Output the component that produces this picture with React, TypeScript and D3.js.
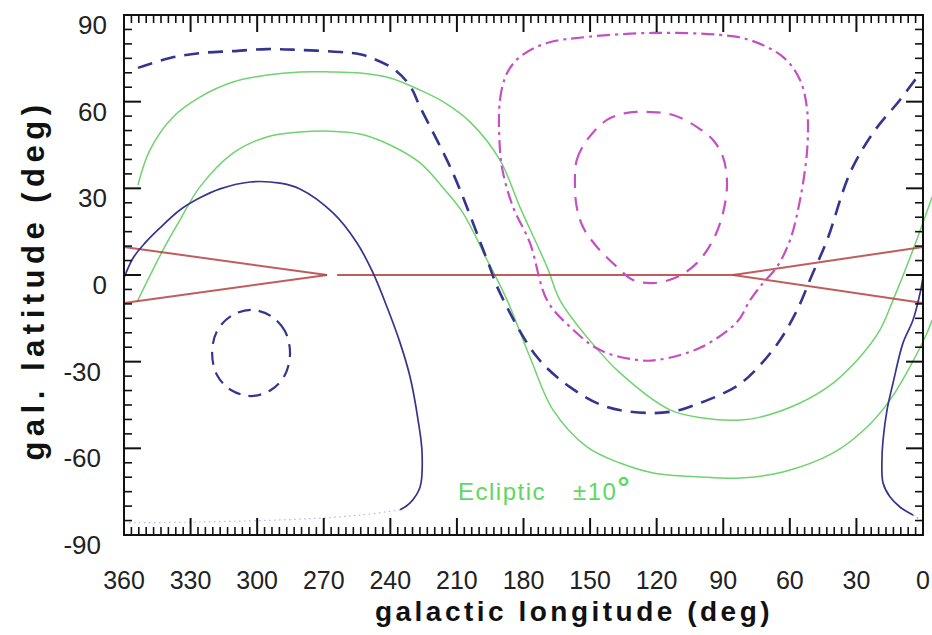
import React from 'react';
import * as d3 from 'd3';

type P = [number, number];

const lonTicks = [360, 330, 300, 270, 240, 210, 180, 150, 120, 90, 60, 30, 0];
const latTicks = [90, 60, 30, 0, -30, -60, -90];

// Ecliptic +10 deg (green)
const eclipticUpper: P[] = [
  [353.7, 31.2], [348.3, 43.3], [337.9, 54.7], [325.8, 61.6], [310.9, 66.8], [295.6, 69.2],
  [280.7, 70.3], [267.2, 70.3], [253.7, 69.9], [240.1, 68.2], [226.6, 64.0], [215.4, 59.6],
  [204.1, 53.0], [190.6, 39.8], [181.6, 23.5], [169.4, 2.8], [163.6, -8.7], [151.4, -21.5],
  [136.5, -33.9], [114.0, -46.7], [99.1, -49.5], [82.4, -50.2], [73.4, -49.2], [55.4, -44.3],
  [40.5, -37.4], [28.4, -28.4], [19.4, -19.0], [13.5, -8.7], [4.5, 8.7], [-4.1, 27.0],
];

// Ecliptic -10 deg (green)
const eclipticLower: P[] = [
  [354.1, -9.3], [342.4, 8.7], [334.8, 19.0], [325.8, 30.5], [310.9, 42.2], [295.6, 47.8],
  [280.7, 49.5], [267.2, 49.8], [253.7, 48.8], [240.1, 45.0], [226.6, 38.8], [215.4, 29.4],
  [207.3, 21.5], [196.4, 5.2], [187.4, -8.7], [177.1, -28.4], [166.7, -46.7], [151.4, -59.5],
  [136.5, -65.1], [121.6, -68.5], [100.5, -69.9], [82.4, -70.3], [63.1, -68.2], [40.5, -61.6],
  [25.2, -52.6], [14.9, -43.3], [5.9, -31.8], [-1.8, -20.1], [-4.1, -15.6],
];

// Blue dashed large curve
const blueDashed: P[] = [
  [353.7, 71.7], [339.3, 75.1], [325.8, 76.8], [310.9, 77.5], [295.6, 78.2], [280.7, 77.9],
  [262.7, 77.2], [253.7, 76.4], [248.3, 75.1], [237.9, 71.0], [231.1, 65.4], [226.6, 58.2],
  [211.8, 35.3], [196.4, 5.2], [190.6, -6.2], [173.9, -28.4], [159.0, -38.8], [142.4, -45.7],
  [121.6, -47.8], [109.5, -46.7], [100.5, -44.3], [91.5, -41.5], [82.4, -37.7], [73.4, -31.2],
  [64.4, -22.5], [56.7, -12.1], [50.0, 0.0], [43.2, 12.1], [32.9, 35.3], [22.5, 49.2],
  [10.4, 60.6], [1.3, 69.9],
];

// Blue dashed small circle
const blueCircle: P[] = [
  [285.2, -27.0], [287.5, -19.4], [293.8, -14.2], [302.8, -12.1], [311.8, -14.2], [318.1, -19.4],
  [320.3, -27.0], [318.1, -34.6], [311.8, -39.8], [302.8, -41.9], [293.8, -39.8], [287.5, -34.6],
];

// Blue solid curve, left branch
const blueSolidLeft: P[] = [
  [360, -1.0], [355.9, 5.9], [350.5, 11.1], [343.8, 16.3], [334.8, 22.5], [325.8, 26.7],
  [316.7, 29.8], [303.2, 32.2], [289.7, 31.8], [280.7, 29.8], [265.8, 21.5], [255.0, 11.1],
  [247.8, 0.7], [241.5, -11.1], [235.6, -23.5], [231.1, -35.3], [227.5, -50.2], [225.7, -61.6],
  [226.6, -73.4], [231.1, -78.9], [235.6, -81.3],
];
const blueSolidLeftTail: P[] = [
  [235.6, -81.3], [253.7, -83.1], [280.7, -84.5], [325.8, -85.5], [359.1, -85.8],
];

// Blue solid curve, right branch
const blueSolidRight: P[] = [
  [0.0, -0.7], [1.3, -6.2], [4.5, -15.6], [9.0, -23.5], [13.5, -37.4], [16.2, -46.7],
  [18.0, -57.1], [18.5, -64.0], [18.0, -72.0], [14.9, -76.8], [10.4, -80.3], [4.5, -83.1],
];
const blueSolidRightTail: P[] = [[4.5, -83.1], [0.9, -84.8]];

// Red lines
const redPlane: P[] = [[264.0, 0.0], [85.6, 0.0]];
const redLeftUpper: P[] = [[360, 9.7], [268.5, 0.0]];
const redLeftLower: P[] = [[360, -9.7], [268.5, 0.0]];
const redRightUpper: P[] = [[85.6, 0.0], [0, 9.7]];
const redRightLower: P[] = [[85.6, 0.0], [0, -9.7]];

// Magenta dash-dot large region
const magentaOuter: P[] = [
  [190.6, 43.3], [190.6, 60.6], [187.4, 69.9], [181.6, 75.5], [169.4, 80.3], [151.4, 82.4],
  [121.6, 83.8], [91.5, 83.1], [77.9, 81.3], [63.1, 75.5], [55.4, 67.5], [52.2, 57.1],
  [52.2, 43.3], [55.4, 26.0], [59.9, 12.1], [65.8, 2.8], [72.1, -2.8], [77.9, -8.7],
  [83.8, -16.3], [100.5, -25.2], [119.5, -29.4], [128.9, -29.4], [145.5, -26.0], [159.0, -18.0],
  [169.4, -8.7], [177.1, 11.1], [184.7, 23.5], [189.2, 35.3],
];

// Magenta dashed inner region
const magentaInner: P[] = [
  [156.8, 30.5], [156.0, 39.8], [151.4, 46.7], [142.4, 53.7], [133.3, 56.1], [123.0, 56.4],
  [112.6, 55.4], [101.8, 51.2], [94.6, 46.7], [90.1, 40.8], [88.3, 31.8], [90.1, 21.5],
  [94.6, 12.1], [101.8, 4.2], [110.8, -0.7], [121.6, -2.8], [130.7, -1.7], [137.9, 2.8],
  [146.9, 9.7], [153.2, 16.6], [156.0, 23.5],
];

const BLUE = '#35358f';
const GREEN = '#6fd36f';
const RED = '#b5413f';
const MAGENTA = '#c450c4';

export default function App() {
  const W = 932;
  const H = 635;
  const L = 124, R = 923, T = 15, B = 535;
  const x = d3.scaleLinear().domain([360, 0]).range([L, R]);
  const y = d3.scaleLinear().domain([90, -90]).range([T, B]);

  const line = d3.line<P>().x(d => x(d[0])).y(d => y(d[1])).curve(d3.curveCatmullRom.alpha(0.5));
  const straight = d3.line<P>().x(d => x(d[0])).y(d => y(d[1]));
  const loop = d3.line<P>().x(d => x(d[0])).y(d => y(d[1])).curve(d3.curveCatmullRomClosed.alpha(0.5));

  const xMinor = d3.range(0, 360.0001, 10 / 3);
  const yMinor = d3.range(-90, 90.0001, 5);
  const font = "'Liberation Sans', Arial, Helvetica, sans-serif";

  return (
    <svg width={W} height={H} style={{ position: 'absolute', left: 0, top: 0, background: '#fff' }}>
      {/* curves */}
      <path d={line(eclipticUpper) || ''} fill="none" stroke={GREEN} strokeWidth={1.5} />
      <path d={line(eclipticLower) || ''} fill="none" stroke={GREEN} strokeWidth={1.5} />

      <path d={straight(redPlane) || ''} fill="none" stroke={RED} strokeWidth={2.2} opacity={0.85} />
      <path d={straight(redLeftUpper) || ''} fill="none" stroke={RED} strokeWidth={2} opacity={0.85} />
      <path d={straight(redLeftLower) || ''} fill="none" stroke={RED} strokeWidth={2} opacity={0.85} />
      <path d={straight(redRightUpper) || ''} fill="none" stroke={RED} strokeWidth={2} opacity={0.85} />
      <path d={straight(redRightLower) || ''} fill="none" stroke={RED} strokeWidth={2} opacity={0.85} />

      <path d={loop(magentaOuter) || ''} fill="none" stroke={MAGENTA} strokeWidth={2.2} strokeDasharray="13,5,3,5" />
      <path d={loop(magentaInner) || ''} fill="none" stroke={MAGENTA} strokeWidth={2.2} strokeDasharray="14,9" />

      <path d={line(blueDashed) || ''} fill="none" stroke={BLUE} strokeWidth={2.6} strokeDasharray="15,9" />
      <path d={loop(blueCircle) || ''} fill="none" stroke={BLUE} strokeWidth={2.2} strokeDasharray="13,8" />

      <path d={line(blueSolidLeft) || ''} fill="none" stroke={BLUE} strokeWidth={1.7} />
      <path d={line(blueSolidLeftTail) || ''} fill="none" stroke={BLUE} strokeWidth={1.2} strokeDasharray="1.5,3.5" opacity={0.35} />
      <path d={line(blueSolidRight) || ''} fill="none" stroke={BLUE} strokeWidth={1.7} />
      <path d={line(blueSolidRightTail) || ''} fill="none" stroke={BLUE} strokeWidth={1.2} strokeDasharray="1.5,3" opacity={0.6} />

      {/* frame and ticks */}
      <rect x={L} y={T} width={R - L} height={B - T} fill="none" stroke="#111" strokeWidth={2} />
      {xMinor.map((v, i) => {
        const major = Math.abs(v % 30) < 1e-6 || Math.abs((v % 30) - 30) < 1e-6;
        const len = major ? 17 : 8;
        return (
          <g key={'x' + i}>
            <line x1={x(v)} x2={x(v)} y1={B} y2={B - len} stroke="#111" strokeWidth={major ? 2 : 1.6} />
            <line x1={x(v)} x2={x(v)} y1={T} y2={T + len} stroke="#111" strokeWidth={major ? 2 : 1.6} />
          </g>
        );
      })}
      {yMinor.map((v, i) => {
        const major = Math.abs(v % 30) < 1e-6;
        const len = major ? 17 : 8;
        return (
          <g key={'y' + i}>
            <line x1={L} x2={L + len} y1={y(v)} y2={y(v)} stroke="#111" strokeWidth={major ? 2 : 1.6} />
            <line x1={R} x2={R - len} y1={y(v)} y2={y(v)} stroke="#111" strokeWidth={major ? 2 : 1.6} />
          </g>
        );
      })}

      {/* tick labels */}
      {lonTicks.map(v => (
        <text key={'xl' + v} x={x(v)} y={589} textAnchor="middle" fontFamily={font} fontSize={25} fill="#222">
          {v}
        </text>
      ))}
      {latTicks.map(v => (
        <text key={'yl' + v} x={v < 0 ? 101 : 107} y={y(v) + 19} textAnchor="end" fontFamily={font} fontSize={26} fill="#222">
          {v}
        </text>
      ))}

      {/* axis titles */}
      <text x={574} y={621} textAnchor="middle" fontFamily={font} fontSize={28} fontWeight="bold" letterSpacing={3.5} fill="#111">
        galactic longitude (deg)
      </text>
      <text transform={`translate(44,${280}) rotate(-90)`} textAnchor="middle" fontFamily={font} fontSize={31} fontWeight="bold" letterSpacing={5.5} fill="#111">
        gal. latitude (deg)
      </text>

      {/* annotation */}
      <text x={458} y={500} fontFamily={font} fontSize={24} letterSpacing={1.5} fill="#5ed85e">
        Ecliptic
      </text>
      <text x={573} y={500} fontFamily={font} fontSize={24} letterSpacing={1.5} fill="#5ed85e">
        ±10<tspan fontSize={30} fontWeight="bold" dy={-2}>°</tspan>
      </text>
    </svg>
  );
}
